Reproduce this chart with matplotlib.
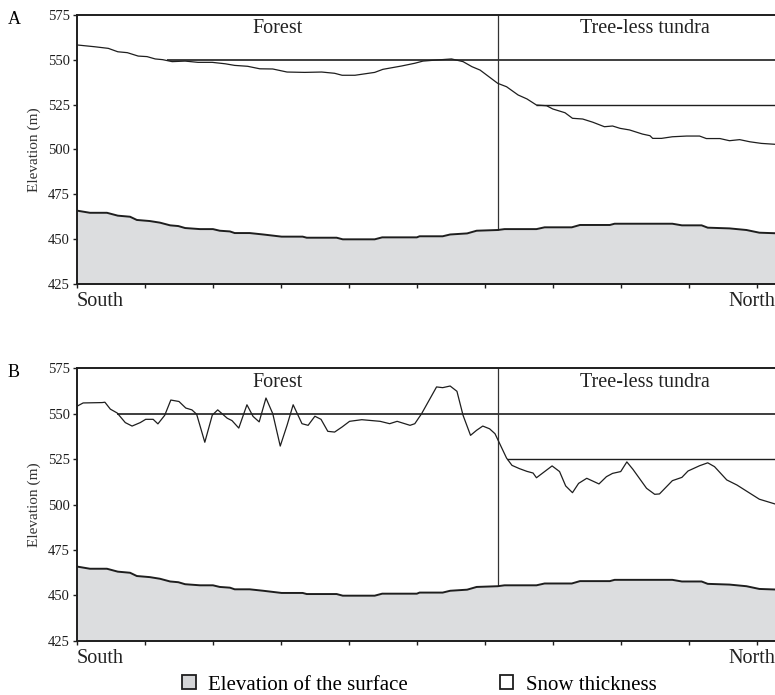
import matplotlib.pyplot as plt
from matplotlib.patches import Patch

plt.rcParams['font.family'] = ['Liberation Serif', 'DejaVu Serif']

# distance along the transect (tick spacing = 1 unit), South -> North
surf_x = [0.00, 0.19, 0.44, 0.60, 0.78, 0.88, 1.07, 1.22, 1.37, 1.49, 1.59, 1.81,
          2.00, 2.10, 2.25, 2.32, 2.54, 2.74, 3.01, 3.32, 3.38, 3.82, 3.91, 4.38,
          4.49, 5.00, 5.04, 5.38, 5.49, 5.74, 5.88, 6.19, 6.29, 6.76, 6.88, 7.28,
          7.40, 7.84, 7.91, 8.76, 8.90, 9.19, 9.28, 9.60, 9.85, 10.04, 10.27]
surface = [465.9, 464.7, 464.7, 463.1, 462.5, 460.7, 460.1, 459.2, 457.7, 457.3, 456.2, 455.6,
           455.6, 454.7, 454.3, 453.4, 453.4, 452.6, 451.4, 451.4, 450.8, 450.8, 449.9, 449.9,
           451.0, 451.0, 451.6, 451.6, 452.6, 453.2, 454.7, 455.1, 455.6, 455.6, 456.6, 456.6,
           457.9, 457.9, 458.6, 458.6, 457.7, 457.7, 456.4, 456.0, 455.1, 453.6, 453.3]

# A: snow surface (m)
snow_a_x = [0.00, 0.26, 0.46, 0.60, 0.74, 0.90, 1.03, 1.15, 1.26, 1.40, 1.59, 1.78,
            1.99, 2.18, 2.32, 2.51, 2.69, 2.88, 3.09, 3.35, 3.60, 3.79, 3.90, 4.09,
            4.38, 4.50, 4.78, 4.97, 5.09, 5.29, 5.51, 5.68, 5.81, 5.93, 6.19, 6.32,
            6.49, 6.62, 6.76, 6.91, 7.00, 7.18, 7.29, 7.44, 7.59, 7.76, 7.88, 7.99,
            8.13, 8.32, 8.43, 8.47, 8.60, 8.76, 8.97, 9.16, 9.26, 9.46, 9.60, 9.75,
            9.90, 10.07, 10.27]
snow_a = [558.3, 557.3, 556.4, 554.5, 554.0, 552.1, 551.8, 550.5, 550.1, 549.0, 549.3, 548.6,
          548.6, 547.8, 546.9, 546.4, 545.0, 544.9, 543.2, 543.0, 543.2, 542.5, 541.4, 541.4,
          543.0, 544.7, 546.6, 548.1, 549.3, 549.9, 550.5, 549.0, 546.2, 544.3, 536.9, 535.0,
          530.4, 528.2, 524.8, 524.4, 522.6, 520.5, 517.4, 517.0, 515.2, 512.7, 513.1, 511.8,
          510.9, 508.6, 507.7, 506.2, 506.2, 507.1, 507.5, 507.5, 506.1, 506.1, 504.9, 505.5,
          504.3, 503.4, 502.9]

# B: snow surface (m)
snow_b_x = [0.00, 0.09, 0.37, 0.41, 0.49, 0.59, 0.71, 0.81, 0.93, 1.01, 1.12, 1.19,
            1.29, 1.38, 1.50, 1.60, 1.69, 1.76, 1.88, 1.99, 2.07, 2.21, 2.28, 2.38,
            2.50, 2.59, 2.68, 2.78, 2.88, 2.99, 3.09, 3.18, 3.31, 3.40, 3.50, 3.59,
            3.69, 3.79, 3.90, 4.01, 4.19, 4.46, 4.60, 4.71, 4.90, 4.97, 5.07, 5.29,
            5.38, 5.49, 5.59, 5.68, 5.79, 5.88, 5.97, 6.07, 6.15, 6.32, 6.40, 6.51,
            6.62, 6.71, 6.76, 6.99, 7.10, 7.19, 7.29, 7.38, 7.50, 7.68, 7.79, 7.88,
            8.00, 8.09, 8.18, 8.38, 8.50, 8.57, 8.76, 8.90, 8.99, 9.16, 9.28, 9.38,
            9.56, 9.71, 9.90, 10.04, 10.27]
snow_b = [554.0, 555.8, 556.0, 556.2, 552.4, 550.3, 545.0, 543.1, 545.0, 546.8, 546.8, 544.3,
          549.0, 557.4, 556.6, 553.0, 552.0, 549.6, 534.2, 549.1, 552.0, 547.4, 546.1, 542.0,
          554.8, 548.4, 545.4, 558.5, 549.9, 532.1, 543.5, 554.8, 544.4, 543.5, 548.5, 546.8,
          540.2, 539.8, 542.6, 545.7, 546.6, 545.7, 544.4, 545.7, 543.5, 544.4, 549.9, 564.6,
          564.2, 565.1, 562.2, 549.0, 538.0, 540.8, 543.1, 541.6, 538.9, 525.5, 521.5, 519.7,
          518.2, 517.3, 514.7, 521.2, 518.1, 510.2, 506.5, 511.6, 514.4, 511.3, 515.3, 517.1,
          518.1, 523.4, 519.3, 508.9, 505.6, 505.8, 513.1, 514.9, 518.4, 521.3, 522.9, 520.8,
          513.5, 510.7, 506.2, 502.9, 500.3]

# treeline position and reference snow levels
treeline_x = 6.19
treeline_surface = 455.1
forest_level = 550
tundra_level = 525
forest_start = {'A': 1.32, 'B': 0.59}
tundra_start = {'A': 6.76, 'B': 6.32}

x_max = 10.27
ink = '#1e1e1e'

fig = plt.figure(figsize=(7.75, 6.95), dpi=100)
ax_a = fig.add_axes([0.0994, 0.5914, 0.9006, 0.3870])
ax_b = fig.add_axes([0.0994, 0.0777, 0.9006, 0.3928])

panels = [(ax_a, 'A', snow_a_x, snow_a), (ax_b, 'B', snow_b_x, snow_b)]

for ax, name, sx, sy in panels:
    ax.fill_between(surf_x, 425, surface, color='#dcdddf', lw=0, zorder=1)
    ax.plot(surf_x, surface, color=ink, lw=1.4, zorder=3)
    ax.plot(sx, sy, color=ink, lw=0.9, zorder=3)

    ax.hlines(forest_level, forest_start[name], x_max, color=ink, lw=1.2, zorder=2)
    ax.hlines(tundra_level, tundra_start[name], x_max, color=ink, lw=1.0, zorder=2)
    ax.vlines(treeline_x, treeline_surface, 575, color='#333333', lw=0.9, zorder=2)

    ax.text(2.95, 567.2, 'Forest', fontsize=14.5, ha='center', va='center', color='#222222')
    ax.text(8.35, 567.2, 'Tree-less tundra', fontsize=14.5, ha='center', va='center',
            color='#222222')

    ax.set_xlim(0, x_max)
    ax.set_ylim(425, 575)
    ax.set_yticks(range(425, 576, 25))
    ax.set_xticks(range(0, 11))
    ax.set_xticklabels([])
    ax.tick_params(axis='y', labelsize=10.5, length=3, width=1, pad=2, colors=ink)
    ax.tick_params(axis='x', length=3, width=1, colors=ink)
    ax.set_ylabel('Elevation (m)', fontsize=11, color='#333333', labelpad=5)

    for side in ['top', 'left', 'bottom']:
        ax.spines[side].set_linewidth(1.4)
        ax.spines[side].set_color(ink)
    ax.spines['right'].set_visible(False)

    ax.text(0.0, -0.064, 'South', transform=ax.transAxes, fontsize=14.5,
            ha='left', va='center', color='#222222')
    ax.text(1.0, -0.064, 'North', transform=ax.transAxes, fontsize=14.5,
            ha='right', va='center', color='#222222')

fig.text(14 / 775, 1 - 20 / 695, 'A', fontsize=13, ha='center', va='center')
fig.text(14 / 775, 1 - 373 / 695, 'B', fontsize=13, ha='center', va='center')

handles = [Patch(facecolor='#d4d5d7', edgecolor=ink, lw=1.3),
           Patch(facecolor='white', edgecolor=ink, lw=1.3)]
fig.legend(handles, ['Elevation of the surface', 'Snow thickness'],
           loc='center', bbox_to_anchor=(0.541, 1 - 685 / 695), ncol=2, frameon=False,
           fontsize=15, handlelength=0.65, handleheight=0.65, handletextpad=0.6,
           columnspacing=4.4, borderpad=0)

fig.savefig('out.png', dpi=100)
